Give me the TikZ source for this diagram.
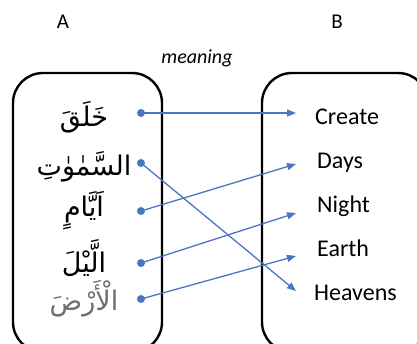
\documentclass[tikz,border=0pt]{standalone}
\usepackage{fontspec}
\setmainfont{Carlito}
\newfontfamily\arabicfont[Script=Arabic]{DejaVu Sans}
\TeXXeTstate=1
\usetikzlibrary{arrows.meta}
\definecolor{lnblue}{HTML}{4A76C0}
\definecolor{argray}{HTML}{6E6E6E}
\tikzset{
 panel/.style={draw=black, line width=2.4pt, rounded corners=30pt},
 dotn/.style={circle, fill=lnblue, inner sep=0pt, minimum size=8pt},
 link/.style={draw=lnblue, line width=1.3pt, -{Triangle[length=9pt,width=7pt]}},
 arw/.style={font=\arabicfont\fontsize{27}{32}\selectfont, inner sep=0pt, anchor=base},
 eng/.style={font=\fontsize{24}{28}\selectfont, anchor=base west, inner sep=0pt},
 head/.style={font=\fontsize{21}{25}\selectfont, inner sep=0pt},
}
\begin{document}
\begin{tikzpicture}[x=1pt,y=-1pt]
\useasboundingbox (0,0) rectangle (417,343);
\clip (0,0) rectangle (417,343);
\node[head] (hA) at (63,22) {A};
\node[head] (hB) at (337,22) {B};
\node[head, font=\itshape\fontsize{20}{24}\selectfont] (mean) at (197,58) {meaning};
\draw[panel] (13,73) rectangle (162,352);
\draw[panel] (262,73) rectangle (428,352);
% Arabic words
\node[arw] (w1) at (84,126) {\beginR خَلَقَ\endR};
\node[arw] (w2) at (84,175) {\beginR السَّمٰوٰتِ\endR};
\node[arw] (w3) at (84,216) {\beginR اَيَّامٍ\endR};
\node[arw] (w4) at (84,272) {\beginR الَّيْلَ\endR};
\node[arw, text=argray] (w5) at (84,310) {\beginR الْأَرْضَ\endR};
% dots
\node[dotn] (d1) at (141,113) {};
\node[dotn] (d2) at (141,163) {};
\node[dotn] (d3) at (141,211) {};
\node[dotn] (d4) at (141,263) {};
\node[dotn] (d5) at (141,299) {};
% English words
\node[eng] (c1) at (315,124) {Create};
\node[eng] (c2) at (317,168) {Days};
\node[eng] (c3) at (317,212) {Night};
\node[eng] (c4) at (317,256) {Earth};
\node[eng] (c5) at (314,300) {Heavens};
% arrow tips
\coordinate (e1) at (296,113);
\coordinate (e2) at (296,164);
\coordinate (e3) at (296,213);
\coordinate (e4) at (296,256);
\coordinate (e5) at (296,291);
\draw[link] (d1.center) -- (e1);
\draw[link] (d2.center) -- (e5);
\draw[link] (d3.center) -- (e2);
\draw[link] (d4.center) -- (e3);
\draw[link] (d5.center) -- (e4);
\end{tikzpicture}
\end{document}
